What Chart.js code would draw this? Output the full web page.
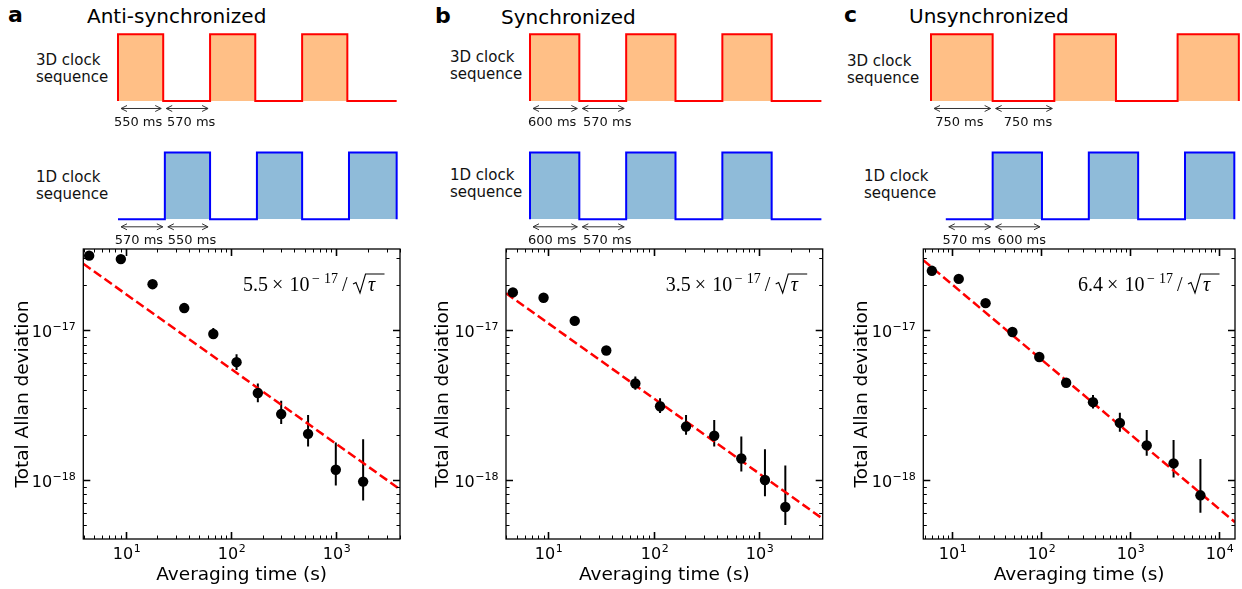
<!DOCTYPE html>
<html>
<head>
<meta charset="utf-8">
<script src="https://cdn.jsdelivr.net/npm/chart.js@4.4.0/dist/chart.umd.min.js"></script>
<style>
    html, body { margin: 0; padding: 0; background: #fff; }
    #page { position: relative; width: 1242px; height: 589px; overflow: hidden; font-family: "DejaVu Sans", sans-serif; color: #000; }
    #page canvas { position: absolute; }
    .lbl { position: absolute; white-space: nowrap; line-height: 1; }
    .letter { font-weight: bold; font-size: 22px; }
    .title { font-size: 20px; }
    .seq { font-size: 15px; line-height: 17px; color: #111; }
</style>
</head>
<body>
<div id="page">
    <div class="lbl letter" style="left:8px; top:4px;">a</div>
    <div class="lbl title" style="left:87px; top:6px;">Anti-synchronized</div>
    <div class="lbl seq" style="left:36px; top:52px;">3D clock<br>sequence</div>
    <div class="lbl seq" style="left:36px; top:168.5px;">1D clock<br>sequence</div>

    <div class="lbl letter" style="left:435px; top:4.5px;">b</div>
    <div class="lbl title" style="left:501px; top:6.5px;">Synchronized</div>
    <div class="lbl seq" style="left:450px; top:49px;">3D clock<br>sequence</div>
    <div class="lbl seq" style="left:450px; top:166.5px;">1D clock<br>sequence</div>

    <div class="lbl letter" style="left:844px; top:4px;">c</div>
    <div class="lbl title" style="left:909px; top:6px;">Unsynchronized</div>
    <div class="lbl seq" style="left:847px; top:52.5px;">3D clock<br>sequence</div>
    <div class="lbl seq" style="left:864px; top:168px;">1D clock<br>sequence</div>
</div>
<script>
// clock sequences: edge times in ms, state alternates starting from the flag
const seqA3D = [0, 550, 1120, 1670, 2240, 2790, 3390];
const seqA1D = [0, 570, 1120, 1690, 2240, 2810, 3390];
const seqB3D = [0, 600, 1170, 1770, 2340, 2940, 3545];
const seqB1D = [0, 600, 1170, 1770, 2340, 2940, 3545];
const seqC3D = [0, 750, 1500, 2250, 3000, 3745];
const seqC1D = [180, 750, 1350, 1920, 2520, 3090, 3690];

// Allan deviation data (tau in s)
const tauA = [4.5, 9.0, 18, 36, 68, 113, 180, 300, 540, 990, 1800];
const devA = [3.13e-17, 2.97e-17, 2.02e-17, 1.40e-17, 9.4e-18, 6.1e-18, 3.8e-18, 2.75e-18, 2.03e-18, 1.17e-18, 9.75e-19];
const loA  = [3.06e-17, 2.90e-17, 1.97e-17, 1.36e-17, 8.7e-18, 5.4e-18, 3.3e-18, 2.36e-18, 1.67e-18, 9.2e-19, 7.3e-19];
const hiA  = [3.20e-17, 3.04e-17, 2.07e-17, 1.44e-17, 1.03e-17, 6.9e-18, 4.4e-18, 3.38e-18, 2.71e-18, 1.78e-18, 1.87e-18];

const tauB = [4.6, 9.0, 17.8, 35.5, 67, 115, 203, 376, 680, 1140, 1780];
const devB = [1.78e-17, 1.64e-17, 1.15e-17, 7.3e-18, 4.4e-18, 3.1e-18, 2.27e-18, 1.97e-18, 1.39e-18, 1.0e-18, 6.6e-19];
const loB  = [1.74e-17, 1.60e-17, 1.12e-17, 7.1e-18, 4.0e-18, 2.8e-18, 2.0e-18, 1.67e-18, 1.14e-18, 7.8e-19, 5.0e-19];
const hiB  = [1.82e-17, 1.68e-17, 1.18e-17, 7.5e-18, 4.9e-18, 3.5e-18, 2.71e-18, 2.51e-18, 1.95e-18, 1.6e-18, 1.25e-18];

const tauC = [6, 12, 24, 48, 96, 192, 384, 768, 1536, 3072, 6144];
const devC = [2.48e-17, 2.19e-17, 1.51e-17, 9.7e-18, 6.6e-18, 4.45e-18, 3.3e-18, 2.4e-18, 1.7e-18, 1.29e-18, 7.9e-19];
const loC  = [2.43e-17, 2.14e-17, 1.47e-17, 9.4e-18, 6.4e-18, 4.3e-18, 3.0e-18, 2.1e-18, 1.45e-18, 1.04e-18, 6.05e-19];
const hiC  = [2.53e-17, 2.24e-17, 1.55e-17, 1.0e-17, 6.8e-18, 4.6e-18, 3.69e-18, 2.81e-18, 2.15e-18, 1.85e-18, 1.38e-18];

// white-noise fit coefficients (sigma = coef / sqrt(tau))
const fitA = 5.5e-17, fitB = 3.5e-17, fitC = 6.4e-17;
const fitLabelA = '5.5', fitLabelB = '3.5', fitLabelC = '6.4';

// axis limits
const yMin = 4.04e-19, yMax = 3.467e-17;
const xRangeAB = [3.96, 4030];
const xRangeC = [4.81, 15000];

// levels used for the sequence drawings
const LVL1_LO = 0, LVL1_HI = 1, LVL3_LO = 1.774, LVL3_HI = 2.774;

const RED = '#ff0000', BLUE = '#0000ff', ORANGE_FILL = '#ffbf86', BLUE_FILL = '#8fbbd9';
const PX_PER_MS = 0.0822;
const FONT = '"DejaVu Sans", sans-serif';
const SERIF = '"Liberation Serif", "Times New Roman", serif';

Chart.defaults.font.family = FONT;

const page = document.getElementById('page');
function addCanvas(left, top, w, h) {
    const c = document.createElement('canvas');
    c.width = w; c.height = h;
    c.style.left = left + 'px'; c.style.top = top + 'px';
    c.style.width = w + 'px'; c.style.height = h + 'px';
    page.appendChild(c);
    return c;
}

function stepPoints(times, startHigh, lo, hi) {
    const pts = [];
    let on = startHigh;
    if (on) pts.push({x: times[0], y: lo});
    for (let i = 0; i < times.length - 1; i++) {
        pts.push({x: times[i], y: on ? hi : lo});
        on = !on;
    }
    const lastOn = !on;
    const tEnd = times[times.length - 1];
    pts.push({x: tEnd, y: lastOn ? hi : lo});
    if (lastOn) pts.push({x: tEnd, y: lo});
    return pts;
}

function drawArrow(ctx, x0, x1, y) {
    ctx.beginPath();
    ctx.moveTo(x0, y); ctx.lineTo(x1, y);
    ctx.moveTo(x0 + 6, y - 3); ctx.lineTo(x0, y); ctx.lineTo(x0 + 6, y + 3);
    ctx.moveTo(x1 - 6, y - 3); ctx.lineTo(x1, y); ctx.lineTo(x1 - 6, y + 3);
    ctx.stroke();
}

const seqArrows = {
    id: 'seqArrows',
    afterDatasetsDraw(chart) {
        const ctx = chart.ctx, xs = chart.scales.x, ys = chart.scales.y;
        ctx.save();
        ctx.strokeStyle = '#333';
        ctx.fillStyle = '#111';
        ctx.lineWidth = 1;
        ctx.font = '13px ' + FONT;
        ctx.textAlign = 'center';
        ctx.textBaseline = 'alphabetic';
        chart.data.datasets.forEach(ds => {
            const t = ds.times;
            const yLow = ys.getPixelForValue(ds.low);
            const shift = [-3, 4];
            for (let i = 0; i < 2; i++) {
                const x0 = xs.getPixelForValue(t[i]) + 3;
                const x1 = xs.getPixelForValue(t[i + 1]) - 2;
                drawArrow(ctx, x0, x1, yLow + 7.5);
                ctx.fillText((t[i + 1] - t[i]) + ' ms', (x0 + x1) / 2 + shift[i], yLow + 25);
            }
        });
        ctx.restore();
    }
};

function makeSeqChart(origin, times3, high3, times1, high1) {
    const tMax = Math.max(times3[times3.length - 1], times1[times1.length - 1]);
    const padL = 30, padR = 20;
    const span = tMax * PX_PER_MS;
    const w = Math.round(padL + span + padR);
    const cv = addCanvas(origin - padL, 0, w, 250);
    new Chart(cv, {
        type: 'line',
        data: {
            datasets: [
                {
                    data: stepPoints(times3, high3, LVL3_LO, LVL3_HI),
                    times: times3, low: LVL3_LO,
                    borderColor: RED, backgroundColor: ORANGE_FILL,
                    fill: {value: LVL3_LO}, stepped: 'before', clip: false
                },
                {
                    data: stepPoints(times1, high1, LVL1_LO, LVL1_HI),
                    times: times1, low: LVL1_LO,
                    borderColor: BLUE, backgroundColor: BLUE_FILL,
                    fill: {value: LVL1_LO}, stepped: 'before', clip: false
                }
            ]
        },
        options: {
            responsive: false,
            animation: false,
            devicePixelRatio: 1,
            layout: { padding: { left: padL, right: w - padL - span, top: 34.3, bottom: 30.7 } },
            plugins: { legend: { display: false }, tooltip: { enabled: false } },
            elements: { line: { borderWidth: 2, tension: 0 }, point: { radius: 0 } },
            scales: {
                x: { type: 'linear', min: 0, max: tMax, display: false },
                y: { type: 'linear', min: 0, max: LVL3_HI, display: false }
            }
        },
        plugins: [seqArrows]
    });
}

function logTicks(min, max) {
    const out = [];
    for (let e = Math.floor(Math.log10(min)); e <= Math.ceil(Math.log10(max)); e++) {
        for (let m = 1; m <= 9; m++) {
            const v = m * Math.pow(10, e);
            if (v >= min * 0.9999 && v <= max * 1.0001) out.push({ v, major: m === 1, e });
        }
    }
    return out;
}

function expText(e) {
    return (e < 0 ? '\u2212' : '') + Math.abs(e);
}

function drawPow(ctx, e, x, base, align) {
    ctx.font = '16px ' + FONT;
    const w1 = ctx.measureText('10').width;
    ctx.font = '11px ' + FONT;
    const s = expText(e);
    const w2 = ctx.measureText(s).width;
    let x0 = align === 'center' ? x - (w1 + w2) / 2 : x - (w1 + w2);
    ctx.textAlign = 'left';
    ctx.textBaseline = 'alphabetic';
    ctx.font = '16px ' + FONT;
    ctx.fillText('10', x0, base);
    ctx.font = '11px ' + FONT;
    ctx.fillText(s, x0 + w1 + 0.5, base - 6.5);
}

// "c × 10^-17 / sqrt(tau)" laid out like the mathtext label
function drawFitLabel(ctx, coefText, right, base) {
    const big = '20px ' + SERIF, small = '14px ' + SERIF, ital = 'italic 20px ' + SERIF;
    const total = 142;
    const x = right - total;
    ctx.textAlign = 'left';
    ctx.textBaseline = 'alphabetic';
    ctx.fillStyle = '#000';
    ctx.font = big;
    ctx.fillText(coefText, x, base);
    ctx.fillText('\u00d7', x + 29, base);
    ctx.fillText('10', x + 46.5, base);
    ctx.font = small;
    ctx.fillText('\u2212', x + 69, base - 8.5);
    ctx.fillText('17', x + 81, base - 8.5);
    ctx.font = big;
    ctx.fillText('/', x + 99, base);
    // radical sign with bar over tau
    ctx.save();
    ctx.strokeStyle = '#000';
    ctx.lineWidth = 1.1;
    ctx.beginPath();
    ctx.moveTo(x + 110, base - 7);
    ctx.lineTo(x + 113, base - 8.5);
    ctx.lineTo(x + 117, base + 2);
    ctx.lineTo(x + 122.5, base - 17);
    ctx.lineTo(x + 141.5, base - 17);
    ctx.stroke();
    ctx.restore();
    ctx.font = ital;
    ctx.fillText('\u03c4', x + 125, base);
}

function allanFrame(lo, hi, tau, coefText, yTitleX) {
    return {
        id: 'allanFrame',
        beforeDatasetsDraw(chart) {
            const ctx = chart.ctx, xs = chart.scales.x, ys = chart.scales.y;
            ctx.save();
            ctx.strokeStyle = '#000';
            ctx.lineWidth = 2;
            ctx.beginPath();
            tau.forEach((t, i) => {
                const px = xs.getPixelForValue(t);
                ctx.moveTo(px, ys.getPixelForValue(lo[i]));
                ctx.lineTo(px, ys.getPixelForValue(hi[i]));
            });
            ctx.stroke();
            ctx.restore();
        },
        afterDatasetsDraw(chart) {
            const ctx = chart.ctx, xs = chart.scales.x, ys = chart.scales.y;
            const a = chart.chartArea;
            ctx.save();
            ctx.strokeStyle = '#000';
            ctx.fillStyle = '#000';
            // frame
            ctx.lineWidth = 1.3;
            ctx.strokeRect(a.left, a.top, a.right - a.left, a.bottom - a.top);
            // x ticks
            logTicks(xs.min, xs.max).forEach(t => {
                const px = Math.round(xs.getPixelForValue(t.v)) + 0.5;
                const len = t.major ? 7 : 3.5;
                ctx.lineWidth = t.major ? 1.6 : 1;
                ctx.beginPath();
                ctx.moveTo(px, a.bottom); ctx.lineTo(px, a.bottom - len);
                ctx.moveTo(px, a.top); ctx.lineTo(px, a.top + len);
                ctx.stroke();
                if (t.major) drawPow(ctx, t.e, px, a.bottom + 19.5, 'center');
            });
            // y ticks
            logTicks(ys.min, ys.max).forEach(t => {
                const py = Math.round(ys.getPixelForValue(t.v)) + 0.5;
                const len = t.major ? 7 : 3.5;
                ctx.lineWidth = t.major ? 1.6 : 1;
                ctx.beginPath();
                ctx.moveTo(a.left, py); ctx.lineTo(a.left + len, py);
                ctx.moveTo(a.right, py); ctx.lineTo(a.right - len, py);
                ctx.stroke();
                if (t.major) drawPow(ctx, t.e, a.left - 8, py + 6, 'right');
            });
            // axis titles
            ctx.font = '18.5px ' + FONT;
            ctx.textAlign = 'center';
            ctx.textBaseline = 'alphabetic';
            ctx.fillText('Averaging time (s)', (a.left + a.right) / 2, a.bottom + 41);
            ctx.save();
            ctx.translate(yTitleX, (a.top + a.bottom) / 2);
            ctx.rotate(-Math.PI / 2);
            ctx.fillText('Total Allan deviation', 0, 0);
            ctx.restore();
            // fit annotation
            drawFitLabel(ctx, coefText, a.right - 15, a.top + 42);
            ctx.restore();
        }
    };
}

function makeAllanChart(left, width, padL, padR, xRange, tau, dev, lo, hi, coef, coefText, yTitleX) {
    const cv = addCanvas(left, 240, width, 349);
    new Chart(cv, {
        type: 'scatter',
        data: {
            datasets: [
                {
                    data: tau.map((t, i) => ({ x: t, y: dev[i] })),
                    backgroundColor: '#000', borderWidth: 0, pointRadius: 5.2
                },
                {
                    data: [
                        { x: xRange[0], y: coef / Math.sqrt(xRange[0]) },
                        { x: xRange[1], y: coef / Math.sqrt(xRange[1]) }
                    ],
                    showLine: true, borderColor: RED, borderWidth: 2.5,
                    borderDash: [9, 4], pointRadius: 0
                }
            ]
        },
        options: {
            responsive: false,
            animation: false,
            devicePixelRatio: 1,
            layout: { padding: { left: padL, right: padR, top: 9, bottom: 50 } },
            plugins: { legend: { display: false }, tooltip: { enabled: false } },
            scales: {
                x: { type: 'logarithmic', min: xRange[0], max: xRange[1], display: false },
                y: { type: 'logarithmic', min: yMin, max: yMax, display: false }
            }
        },
        plugins: [allanFrame(lo, hi, tau, coefText, yTitleX)]
    });
}

makeSeqChart(117.7, seqA3D, true, seqA1D, false);
makeSeqChart(530, seqB3D, true, seqB1D, true);
makeSeqChart(930.7, seqC3D, true, seqC1D, false);

makeAllanChart(0, 415, 83.3, 15, xRangeAB, tauA, devA, loA, hiA, fitA, fitLabelA, 28);
makeAllanChart(420, 415, 86, 12.3, xRangeAB, tauB, devB, loB, hiB, fitB, fitLabelB, 28.3);
makeAllanChart(840, 402, 83.3, 7, xRangeC, tauC, devC, loC, hiC, fitC, fitLabelC, 27);
</script>
</body>
</html>
